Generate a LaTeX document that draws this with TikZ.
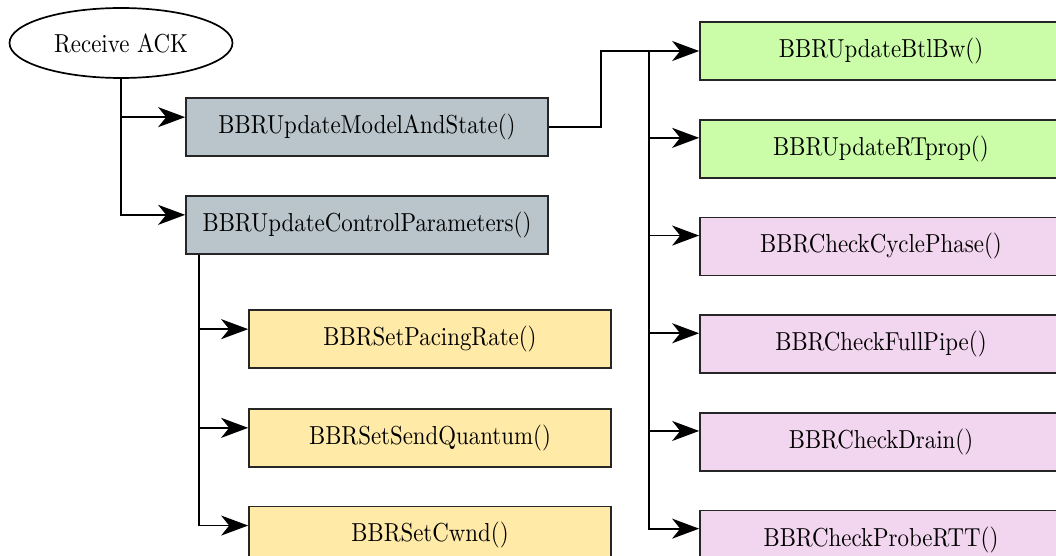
\documentclass[tikz,border=0pt]{standalone}
\usepackage{fontspec}
\setmainfont{lmroman10-regular}[Extension=.otf, FakeStretch=0.88]
\usetikzlibrary{positioning,arrows.meta,shapes.geometric}
\definecolor{corecol}{HTML}{B9C5CA}
\definecolor{modelcol}{HTML}{CBFDA9}
\definecolor{statecol}{HTML}{F2D5EE}
\definecolor{ctrlcol}{HTML}{FFEAA7}

\begin{document}
\begin{tikzpicture}[x=1pt, y=-1pt, line width=1.7pt,
  func/.style={rectangle, draw=black!85, minimum width=362pt, minimum height=58pt,
    inner sep=0pt, font=\fontsize{26}{30}\selectfont},
  corebox/.style={func, fill=corecol},
  modelbox/.style={func, fill=modelcol},
  statebox/.style={func, fill=statecol},
  ctrlbox/.style={func, fill=ctrlcol},
  flow/.style={-{Stealth[length=27pt,width=20pt,inset=8pt]}}]
	  \useasboundingbox (0,0) rectangle (1056,556);
	  \clip (0,0) rectangle (1056,556);
	  \node[ellipse, draw=black, minimum width=223pt, minimum height=70pt, inner sep=0pt,
	    font=\fontsize{26}{30}\selectfont] (ack) at (121,43) {Receive ACK};
	  \node[corebox] (model) at (367,127) {BBRUpdateModelAndState()};
	  \node[corebox, below=38pt of model] (ctrl) {BBRUpdateControlParameters()};
	  \node[ctrlbox] (pacing) at (430,339) {BBRSetPacingRate()};
	  \node[ctrlbox, below=39pt of pacing] (sendq) {BBRSetSendQuantum()};
	  \node[ctrlbox, below=38pt of sendq] (cwnd) {BBRSetCwnd()};
	  \node[modelbox] (btlbw) at (881,51) {BBRUpdateBtlBw()};
	  \node[modelbox, below=38pt of btlbw] (rtprop) {BBRUpdateRTprop()};
	  \node[statebox, below=38pt of rtprop] (cycle) {BBRCheckCyclePhase()};
	  \node[statebox, below=38pt of cycle] (fullpipe) {BBRCheckFullPipe()};
	  \node[statebox, below=38pt of fullpipe] (drain) {BBRCheckDrain()};
	  \node[statebox, below=38pt of drain] (probertt) {BBRCheckProbeRTT()};
	  \coordinate[right=52pt of model.east] (mbend);
	  \coordinate[left=50pt of btlbw.west] (mfork);
	  \coordinate[right=14pt of ctrl.south west] (cfork);
	  \draw[flow] (ack.south) |- ([yshift=-20pt]model.north west);
	  \draw[flow] (ack.south) |- ([yshift=-20pt]ctrl.north west);
	  \draw (model.east) -- (mbend) |- (mfork);
	  \draw[flow] (mfork) -- (btlbw.west);
	  \draw[flow] (mfork) |- ([yshift=-19pt]rtprop.north west);
	  \draw[flow] (mfork) |- ([yshift=-19pt]cycle.north west);
	  \draw[flow] (mfork) |- ([yshift=-19pt]fullpipe.north west);
	  \draw[flow] (mfork) |- ([yshift=-19pt]drain.north west);
	  \draw[flow] (mfork) |- ([yshift=-19pt]probertt.north west);
	  \draw[flow] (cfork) |- ([yshift=-20pt]pacing.north west);
	  \draw[flow] (cfork) |- ([yshift=-20pt]sendq.north west);
	  \draw[flow] (cfork) |- ([yshift=-20pt]cwnd.north west);
	\end{tikzpicture}
\end{document}
